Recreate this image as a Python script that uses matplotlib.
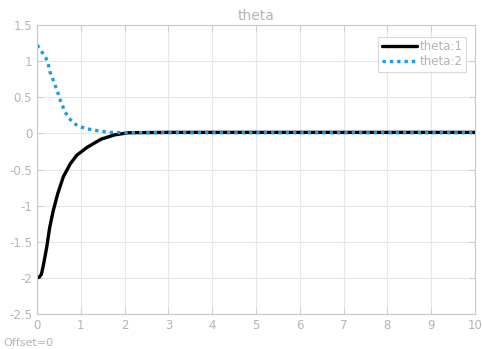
import matplotlib
matplotlib.use("Agg")
import matplotlib.pyplot as plt

title = "theta"
t1 = [0.0, 0.05, 0.1, 0.15, 0.22, 0.29, 0.37, 0.47, 0.6, 0.76, 0.91, 1.15, 1.46, 1.77, 2.08, 3, 4, 5, 6, 7, 8, 9, 10]
theta1 = [-2.0, -1.99, -1.95, -1.81, -1.58, -1.30, -1.07, -0.84, -0.60, -0.42, -0.30, -0.19, -0.08, -0.02, 0.01, 0.015, 0.015, 0.015, 0.015, 0.015, 0.015, 0.015, 0.015]
t2 = [0.0, 0.02, 0.11, 0.2, 0.26, 0.29, 0.35, 0.41, 0.47, 0.51, 0.57, 0.64, 0.72, 0.82, 0.95, 1.11, 1.26, 1.46, 1.69, 2.0, 3, 4, 5, 6, 7, 8, 9, 10]
theta2 = [1.22, 1.21, 1.13, 1.05, 0.95, 0.86, 0.77, 0.67, 0.58, 0.49, 0.40, 0.30, 0.22, 0.15, 0.10, 0.07, 0.05, 0.03, 0.014, 0.01, 0.01, 0.01, 0.01, 0.01, 0.01, 0.01, 0.01, 0.01]
labels = ["theta:1", "theta:2"]
xticks = list(range(0, 11))
yticks = [1.5, 1, 0.5, 0, -0.5, -1, -1.5, -2, -2.5]
ytick_labels = ["1.5", "1", "0.5", "0", "-0.5", "-1", "-1.5", "-2", "-2.5"]

gray = "#b4b4b4"
fig = plt.figure(figsize=(4.82, 3.49), dpi=100)
ax = fig.add_axes([0.0768, 0.1003, 0.9087, 0.8277])
ax.plot(t1, theta1, color="black", lw=2.4, label=labels[0], solid_capstyle="round")
ax.plot(t2, theta2, color="#1e9be9", lw=2.4, ls=(0, (1, 1.2)), label=labels[1])
ax.set_xlim(0, 10)
ax.set_ylim(-2.5, 1.5)
ax.set_xticks(xticks)
ax.set_yticks(yticks)
ax.set_yticklabels(ytick_labels)
ax.grid(True, color="#e6e6e6", lw=0.8)
ax.set_axisbelow(True)
for s in ax.spines.values():
    s.set_color("#c8c8c8")
    s.set_linewidth(0.8)
ax.tick_params(colors="#c8c8c8", labelcolor=gray, labelsize=8.5, length=4, width=0.6, direction="in", top=True, right=True)
ax.set_title(title, color=gray, fontsize=10, pad=4)
leg = ax.legend(loc="upper right", fontsize=8.5, frameon=True, fancybox=False,
                bbox_to_anchor=(0.98, 0.96), borderaxespad=0.0,
                handlelength=3.0, handletextpad=0.2, labelspacing=0.15, borderpad=0.3)
leg.get_frame().set_edgecolor("#d0d0d0")
leg.get_frame().set_linewidth(0.8)
for txt in leg.get_texts():
    txt.set_color(gray)
fig.text(0.008, 0.01, "Offset=0", color=gray, fontsize=8)
fig.savefig("out.png", dpi=100)
